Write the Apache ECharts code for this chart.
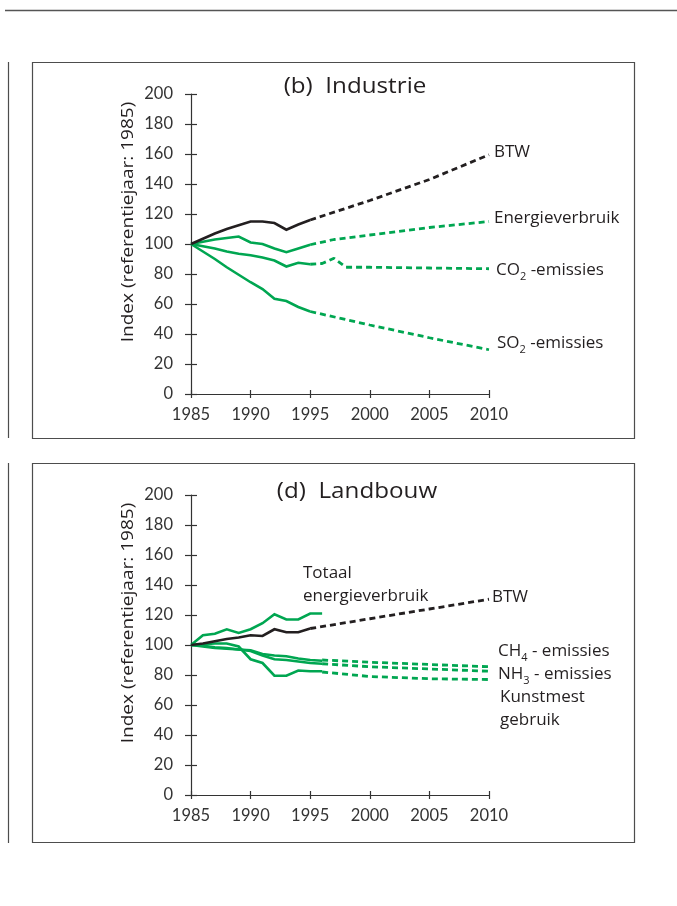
<!DOCTYPE html>
<html>
<head>
<meta charset="utf-8">
<script src="https://cdn.jsdelivr.net/npm/echarts@6/dist/echarts.min.js"></script>
<style>
  html, body { margin: 0; padding: 0; background: #fff; }
  #chart { width: 677px; height: 906px; }
</style>
</head>
<body>
<div id="chart"></div>
<script>
// ---------- Data ----------
const xTickLabels = ['1985', '1990', '1995', '2000', '2005', '2010'];
const yTickLabels = ['0', '20', '40', '60', '80', '100', '120', '140', '160', '180', '200'];

// Panel (b) Industrie
const indYears = [1985, 1986, 1987, 1988, 1989, 1990, 1991, 1992, 1993, 1994, 1995];
const indBTW = [100, 103.5, 107, 110, 112.5, 115, 115, 114, 109.5, 113, 116];
const indEnergie = [100, 101.5, 103, 104, 105, 101, 100, 97, 94.5, 97, 99.5];
const indCO2 = [100, 98.5, 97, 95, 93.5, 92.5, 91, 89, 85, 87.5, 86.5];
const indSO2 = [100, 95, 90, 84.5, 79.5, 74.5, 70, 63.5, 62, 58, 55];

const indBTWProjYears = [1995, 2000, 2005, 2010];
const indBTWProj = [116, 129, 143, 159.5];
const indEnergieProjYears = [1995, 1997, 2000, 2005, 2010];
const indEnergieProj = [99.5, 103, 106, 111, 115];
const indCO2ProjYears = [1995, 1996, 1997, 1998, 2000, 2005, 2010];
const indCO2Proj = [86.5, 87, 90.5, 84.5, 84.5, 84, 83.5];
const indSO2ProjYears = [1995, 2000, 2005, 2010];
const indSO2Proj = [55, 46, 37.5, 29.5];

// Panel (d) Landbouw
const landYears = [1985, 1986, 1987, 1988, 1989, 1990, 1991, 1992, 1993, 1994, 1995, 1996];
const landEnergie = [100, 106.5, 107.5, 110.5, 108, 110.5, 114.5, 120.5, 117, 117, 121, 121];
const landCH4 = [100, 99.5, 98.5, 98, 97, 96.5, 94, 93, 92.5, 91, 90, 89.5];
const landNH3 = [100, 99, 98, 97.5, 97, 96, 93, 90.5, 90, 89, 88, 87.5];
const landKunstmest = [100, 100.5, 101, 101, 99, 90.5, 88, 79.5, 79.5, 83, 82.5, 82.5];
const landBTWYears = [1985, 1986, 1987, 1988, 1989, 1990, 1991, 1992, 1993, 1994, 1995];
const landBTW = [100, 101, 102.5, 104, 105, 106.5, 106, 110.5, 108.5, 108.5, 111];

const landBTWProjYears = [1995, 2000, 2005, 2010];
const landBTWProj = [111, 117.5, 124, 130.5];
const landProjYears = [1996, 2000, 2005, 2010];
const landCH4Proj = [90, 88.5, 87, 85.5];
const landNH3Proj = [87.5, 85.5, 84, 82.5];
const landKunstmestProj = [82, 79, 77.5, 77];

// ---------- Styles ----------
const GREEN = '#00a651';
const BLACK = '#231f20';
const NUMFONT = 'Lato';
const FONT = 'Open Sans';
const TXT = '#231f20';

function pairs(xs, ys) { return xs.map((x, i) => [x, ys[i]]); }

const chart = echarts.init(document.getElementById('chart'), null, { renderer: 'canvas' });

const grids = [
  { left: 191, top: 94, width: 298, height: 300 },
  { left: 191, top: 495, width: 298, height: 300 }
];

function xAxes(gi) {
  return [
    {
      gridIndex: gi, type: 'value', min: 1985, max: 2010, interval: 5,
      axisLine: { lineStyle: { color: '#333', width: 1.2 } },
      axisTick: { inside: true, length: 4, lineStyle: { color: '#333', width: 1.2 } },
      axisLabel: {
        margin: 12, color: '#333', fontFamily: NUMFONT, fontSize: 16.5,
        formatter: v => xTickLabels[Math.round((v - 1985) / 5)]
      },
      splitLine: { show: false }
    },
    {
      gridIndex: gi, type: 'value', min: 1985, max: 2010, interval: 5, position: 'bottom',
      axisLine: { show: false },
      axisTick: { inside: false, length: 4, lineStyle: { color: '#333', width: 1.2 } },
      axisLabel: { show: false },
      splitLine: { show: false }
    }
  ];
}
function yAxes(gi) {
  return [
    {
      gridIndex: gi, type: 'value', min: 0, max: 200, interval: 20,
      axisLine: { show: true, lineStyle: { color: '#333', width: 1.2 } },
      axisTick: { show: true, inside: true, length: 6, lineStyle: { color: '#333', width: 1.2 } },
      axisLabel: {
        margin: 18, color: '#333', fontFamily: NUMFONT, fontSize: 16.5,
        formatter: v => yTickLabels[Math.round(v / 20)]
      },
      splitLine: { show: false }
    },
    {
      gridIndex: gi, type: 'value', min: 0, max: 200, interval: 20, position: 'left',
      axisLine: { show: false },
      axisTick: { show: true, inside: false, length: 6, lineStyle: { color: '#333', width: 1.2 } },
      axisLabel: { show: false },
      splitLine: { show: false }
    }
  ];
}

function solid(gi, xs, ys, color) {
  return {
    type: 'line', xAxisIndex: gi * 2, yAxisIndex: gi * 2, data: pairs(xs, ys),
    symbol: 'none', silent: true, animation: false,
    lineStyle: { color: color, width: 2.6, join: 'miter' }
  };
}
function dashed(gi, xs, ys, color) {
  return {
    type: 'line', xAxisIndex: gi * 2, yAxisIndex: gi * 2, data: pairs(xs, ys),
    symbol: 'none', silent: true, animation: false,
    lineStyle: { color: color, width: 2.8, type: [6, 4] }
  };
}

const series = [
  solid(0, indYears, indSO2, GREEN),
  solid(0, indYears, indCO2, GREEN),
  solid(0, indYears, indEnergie, GREEN),
  solid(0, indYears, indBTW, BLACK),
  dashed(0, indSO2ProjYears, indSO2Proj, GREEN),
  dashed(0, indCO2ProjYears, indCO2Proj, GREEN),
  dashed(0, indEnergieProjYears, indEnergieProj, GREEN),
  dashed(0, indBTWProjYears, indBTWProj, BLACK),

  solid(1, landYears, landKunstmest, GREEN),
  solid(1, landYears, landNH3, GREEN),
  solid(1, landYears, landCH4, GREEN),
  solid(1, landYears, landEnergie, GREEN),
  solid(1, landBTWYears, landBTW, BLACK),
  dashed(1, landProjYears, landKunstmestProj, GREEN),
  dashed(1, landProjYears, landNH3Proj, GREEN),
  dashed(1, landProjYears, landCH4Proj, GREEN),
  dashed(1, landBTWProjYears, landBTWProj, BLACK)
];

const LFS = 17;
const baseText = { fontFamily: FONT, fontSize: LFS, fill: TXT };
const rich = {
  a: { fontFamily: FONT, fontSize: LFS, color: TXT, lineHeight: 24, verticalAlign: 'middle' },
  s: { fontFamily: FONT, fontSize: 11, color: TXT, lineHeight: 24, verticalAlign: 'bottom' }
};
function label(x, y, text) {
  return { type: 'text', x: x, y: y, style: Object.assign({ text: text, verticalAlign: 'middle', align: 'left' }, baseText) };
}
function richLabel(x, y, text) {
  return { type: 'text', x: x, y: y, style: { text: text, rich: rich, verticalAlign: 'middle', align: 'left', fontFamily: FONT, fontSize: LFS, fill: TXT } };
}

const FRAME = '#4d4d4d';
const graphic = [
  { type: 'line', shape: { x1: 5, y1: 10.5, x2: 677, y2: 10.5 }, style: { stroke: '#555', lineWidth: 1.5 } },
  { type: 'line', shape: { x1: 8.5, y1: 62, x2: 8.5, y2: 438 }, style: { stroke: FRAME, lineWidth: 1.2 } },
  { type: 'line', shape: { x1: 8.5, y1: 463, x2: 8.5, y2: 843 }, style: { stroke: FRAME, lineWidth: 1.2 } },
  { type: 'rect', shape: { x: 32.5, y: 62.5, width: 602, height: 376 }, style: { fill: null, stroke: FRAME, lineWidth: 1.2 } },
  { type: 'rect', shape: { x: 32.5, y: 463.5, width: 602, height: 379 }, style: { fill: null, stroke: FRAME, lineWidth: 1.2 } },

  { type: 'text', x: 355, y: 87, scaleX: 1.1, style: { text: '(b)  Industrie', align: 'center', verticalAlign: 'middle', fontFamily: FONT, fontSize: 22, fill: TXT } },
  { type: 'text', x: 357, y: 492, scaleX: 1.1, style: { text: '(d)  Landbouw', align: 'center', verticalAlign: 'middle', fontFamily: FONT, fontSize: 22, fill: TXT } },

  { type: 'text', x: 128, y: 222, rotation: Math.PI / 2, scaleX: 1.12, style: { text: 'Index (referentiejaar: 1985)', align: 'center', verticalAlign: 'middle', fontFamily: FONT, fontSize: 17, fill: TXT } },
  { type: 'text', x: 128, y: 623, rotation: Math.PI / 2, scaleX: 1.12, style: { text: 'Index (referentiejaar: 1985)', align: 'center', verticalAlign: 'middle', fontFamily: FONT, fontSize: 17, fill: TXT } },

  label(494, 152, 'BTW'),
  label(494, 218, 'Energieverbruik'),
  richLabel(496, 270, '{a|CO}{s|2}{a| -emissies}'),
  richLabel(497, 343, '{a|SO}{s|2}{a| -emissies}'),

  label(303, 573, 'Totaal'),
  label(303, 596, 'energieverbruik'),
  label(492, 597, 'BTW'),
  richLabel(498, 651, '{a|CH}{s|4}{a| - emissies}'),
  richLabel(498, 674, '{a|NH}{s|3}{a| - emissies}'),
  label(500, 697, 'Kunstmest'),
  label(500, 720, 'gebruik')
];

chart.setOption({
  animation: false,
  backgroundColor: '#fff',
  grid: grids,
  xAxis: xAxes(0).concat(xAxes(1)),
  yAxis: yAxes(0).concat(yAxes(1)),
  series: series,
  graphic: graphic
});
</script>
</body>
</html>
